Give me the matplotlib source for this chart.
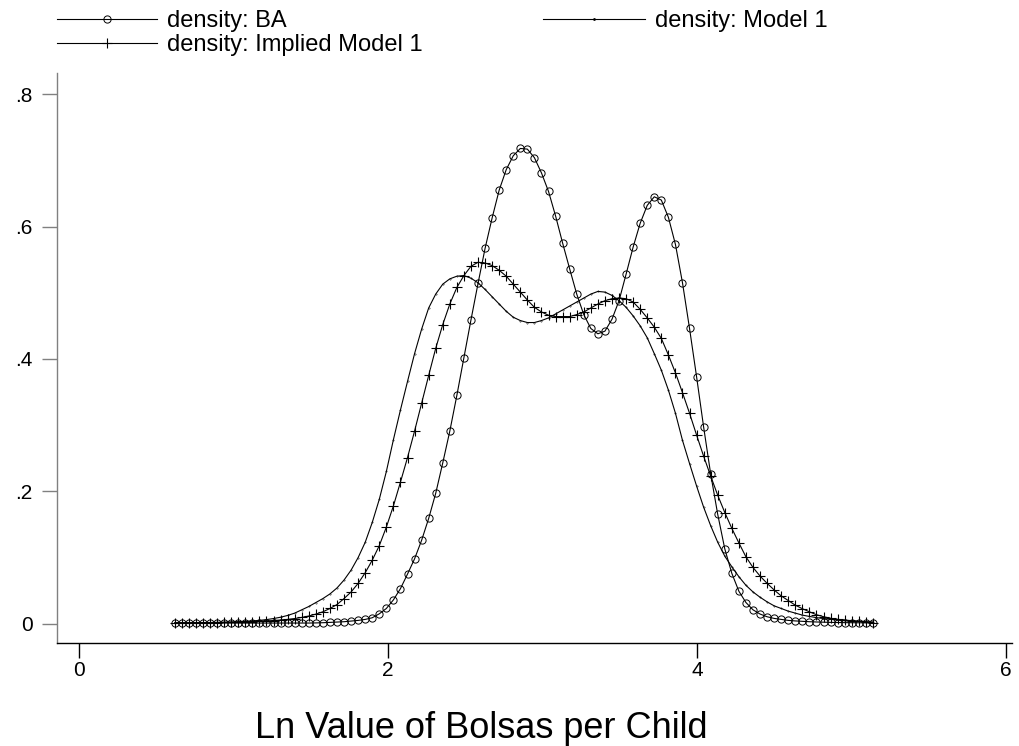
import numpy as np
import matplotlib
matplotlib.use("Agg")
import matplotlib.pyplot as plt
from matplotlib.lines import Line2D

plt.rcParams['font.family'] = ['Liberation Sans', 'DejaVu Sans']

# kdensity evaluation grid (100 points)
x_grid = np.linspace(0.619, 5.139, 100)

density_ba = [
    0.001, 0.001, 0.001, 0.001, 0.001, 0.001, 0.001, 0.001, 0.001, 0.001,
    0.001, 0.001, 0.001, 0.001, 0.001, 0.001, 0.001, 0.001, 0.001, 0.001,
    0.0012, 0.0015, 0.002, 0.0025, 0.003, 0.004, 0.005, 0.0065, 0.009, 0.015,
    0.023, 0.036, 0.053, 0.075, 0.098, 0.126, 0.159, 0.197, 0.243, 0.291,
    0.345, 0.402, 0.459, 0.514, 0.567, 0.613, 0.655, 0.686, 0.707, 0.718,
    0.717, 0.704, 0.681, 0.653, 0.616, 0.575, 0.536, 0.498, 0.467, 0.446,
    0.438, 0.442, 0.460, 0.488, 0.528, 0.569, 0.605, 0.632, 0.645, 0.640,
    0.614, 0.573, 0.515, 0.446, 0.373, 0.297, 0.226, 0.165, 0.113, 0.076,
    0.049, 0.032, 0.021, 0.0146, 0.0105, 0.008, 0.0065, 0.005, 0.0042, 0.0036,
    0.003, 0.0026, 0.0023, 0.002, 0.0018, 0.0016, 0.0015, 0.0014, 0.0013, 0.0012,
]

density_model1 = [
    0.0015, 0.0015, 0.0015, 0.0016, 0.0017, 0.0018, 0.002, 0.0022, 0.0025, 0.003,
    0.0035, 0.0042, 0.005, 0.0062, 0.0078, 0.0098, 0.0125, 0.016, 0.021, 0.026,
    0.032, 0.038, 0.045, 0.054, 0.066, 0.081, 0.100, 0.123, 0.153, 0.188,
    0.230, 0.278, 0.323, 0.366, 0.408, 0.445, 0.477, 0.498, 0.513, 0.521,
    0.525, 0.526, 0.522, 0.515, 0.505, 0.494, 0.483, 0.472, 0.463, 0.458,
    0.455, 0.455, 0.458, 0.462, 0.468, 0.474, 0.480, 0.486, 0.492, 0.498,
    0.502, 0.501, 0.496, 0.488, 0.478, 0.465, 0.450, 0.432, 0.408, 0.383,
    0.353, 0.318, 0.277, 0.242, 0.208, 0.176, 0.148, 0.123, 0.102, 0.086,
    0.071, 0.058, 0.048, 0.040, 0.033, 0.027, 0.023, 0.019, 0.016, 0.013,
    0.011, 0.0092, 0.0078, 0.0066, 0.0056, 0.0048, 0.0042, 0.0036, 0.0031, 0.0027,
]

density_implied = [
    0.001, 0.001, 0.001, 0.0012, 0.0013, 0.0015, 0.0017, 0.002, 0.0023, 0.0026,
    0.003, 0.0033, 0.0037, 0.0042, 0.0048, 0.0055, 0.0065, 0.0078, 0.0095, 0.0116,
    0.0145, 0.018, 0.023, 0.029, 0.038, 0.048, 0.061, 0.077, 0.096, 0.118,
    0.146, 0.178, 0.214, 0.251, 0.291, 0.333, 0.375, 0.416, 0.452, 0.483,
    0.508, 0.526, 0.540, 0.546, 0.545, 0.541, 0.534, 0.525, 0.513, 0.501,
    0.489, 0.478, 0.471, 0.466, 0.464, 0.464, 0.464, 0.467, 0.471, 0.477,
    0.483, 0.488, 0.491, 0.492, 0.491, 0.486, 0.475, 0.462, 0.448, 0.431,
    0.406, 0.379, 0.349, 0.318, 0.285, 0.253, 0.223, 0.194, 0.168, 0.144,
    0.122, 0.101, 0.085, 0.072, 0.061, 0.051, 0.042, 0.035, 0.028, 0.0227,
    0.018, 0.0136, 0.0106, 0.0082, 0.0066, 0.0055, 0.0045, 0.0035, 0.0025, 0.0015,
]

legend_labels = ["density: BA", "density: Model 1", "density: Implied Model 1"]
x_ticks = [0, 2, 4, 6]
y_ticks = [0, 0.2, 0.4, 0.6, 0.8]
y_tick_labels = ["0", ".2", ".4", ".6", ".8"]
x_label = "Ln Value of Bolsas per Child"

W, H = 1019, 746
fig = plt.figure(figsize=(W / 100, H / 100), dpi=100)
ax = fig.add_axes([56.7 / W, 1 - 643.3 / H, (1012 - 56.7) / W, (643.3 - 73) / H])

lw = 0.8
ba_style = dict(color='black', lw=lw, marker='o', mfc='none', mec='black', ms=5.2, mew=0.7)
m1_style = dict(color='black', lw=lw, marker='.', ms=0.6)
im_style = dict(color='black', lw=lw, marker='+', ms=6.5, mew=0.8)

ax.plot(x_grid, density_ba, **ba_style)
ax.plot(x_grid, density_model1, **m1_style)
ax.plot(x_grid, density_implied, **im_style)

ax.set_xlim(-0.146, 6.04)
ax.set_ylim(-0.0296, 0.832)
ax.set_xticks(x_ticks)
ax.set_xticklabels([str(t) for t in x_ticks])
ax.set_yticks(y_ticks)
ax.set_yticklabels(y_tick_labels)

for s in ['top', 'right']:
    ax.spines[s].set_visible(False)
ax.spines['left'].set_color('#808080')
ax.spines['left'].set_linewidth(1.0)
ax.spines['bottom'].set_color('black')
ax.spines['bottom'].set_linewidth(1.0)

ax.tick_params(axis='y', length=10.5, width=1.0, color='#808080', pad=7, labelsize=15)
ax.tick_params(axis='x', length=10.5, width=1.0, color='black', pad=2, labelsize=15)

fig.text(481 / W, 1 - 738 / H, x_label, ha='center', va='baseline', fontsize=26)

# legend drawn manually (Stata-style)
def legend_entry(x0, x1, y, style, label, ms=None):
    xs = [x0 / W, (x0 + x1) / 2 / W, x1 / W]
    ys = [1 - y / H] * 3
    st = dict(style)
    if ms is not None:
        st['ms'] = ms
    st['markevery'] = [1]
    fig.add_artist(Line2D(xs, ys, transform=fig.transFigure, **st))
    fig.text((x1 + 10) / W, 1 - y / H, label, ha='left', va='center_baseline', fontsize=17)

legend_entry(56.7, 156.7, 19, ba_style, legend_labels[0])
legend_entry(543, 645, 19, m1_style, legend_labels[1], ms=2.0)
legend_entry(56.7, 156.7, 43, im_style, legend_labels[2])

fig.savefig("out.png", dpi=100)
